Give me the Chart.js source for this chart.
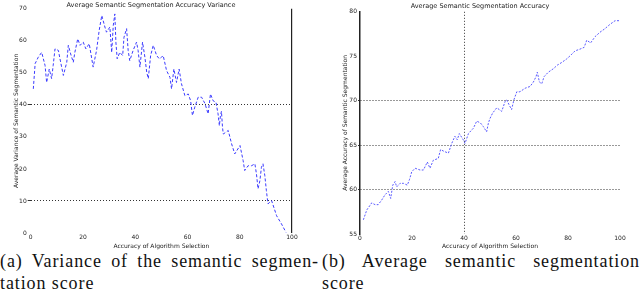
<!DOCTYPE html>
<html>
<head>
<meta charset="utf-8">
<script src="https://cdn.jsdelivr.net/npm/chart.js@4.4.0/dist/chart.umd.min.js"></script>
<style>
  body { margin: 0; background: #fff; width: 640px; height: 305px; overflow: hidden; position: relative; }
  canvas { position: absolute; top: 0; }
  #left { left: 0; }
  #right { left: 320px; }
  .cap { position: absolute; font-family: "Liberation Serif", serif; font-size: 18px; letter-spacing: 0.9px; color: #111; line-height: 22px; }
  .just { text-align: justify; text-align-last: justify; white-space: nowrap; }
</style>
</head>
<body>
<canvas id="left" width="320" height="250"></canvas>
<canvas id="right" width="320" height="250"></canvas>
<div class="cap" style="left:0; top:250px; width:319px;">
  <div class="just">(a) Variance of the semantic segmen-</div>
  <div>tation score</div>
</div>
<div class="cap" style="left:322px; top:250px; width:318px;">
  <div class="just">(b) Average semantic segmentation</div>
  <div>score</div>
</div>
<script>
// left plot: variance of segmentation score vs algorithm selection accuracy
const leftX = [1,1.7,2.9,4.2,5.5,6.1,7.1,8,8.6,9.3,10.6,11.2,12.5,13.8,14.4,15.3,16.3,16.9,18,18.9,20.1,21.1,22.4,23.9,25.2,26.2,27.2,28.4,29,30.3,31,31.6,32.2,32.6,33.1,34.1,35.2,35.7,36.7,37.3,37.9,39.2,40.5,41.1,41.8,42.8,43.7,44.4,45,45.9,46.9,48.2,49.2,50.1,50.7,52,53.3,53.9,54.8,55.8,56.8,57.7,59,60.3,61.2,61.9,62.8,64.1,65.4,66.7,67.9,68.8,69.8,70.9,71.7,72.2,72.6,73,73.4,73.7,75.6,76.9,78.1,80.1,81.3,81.9,83.2,84.5,85.8,86.4,87,87.7,88.3,88.9,89.6,90.2,90.8,92.2,94.1,96,97.7];
const leftY = [45,52.9,54.9,56.4,52.3,47,51.2,48.2,52.3,57.5,57,54.4,49.2,53.3,58.6,55.9,53.3,56.4,60.6,58.6,59.6,57.5,59.1,51.8,57,63.2,67.9,64.3,62.7,64.3,56.4,64.8,68.4,59.6,54.4,56.4,55.4,61.1,63.8,57,53.8,57,59.6,57,51.8,59.6,54.9,50.2,48.2,55.4,58.6,55.4,54.4,54.9,55.4,50.7,48.6,45,51.2,47,51.2,46.6,42.9,43.4,41.3,36.7,39.3,42.4,42.4,40.4,37.2,43.4,41.3,40.8,37.2,33.5,36.5,38,33,30.9,32,27.8,24.7,27.3,22.6,19.5,21,21,21.6,18.4,13.8,16.3,20.5,21.6,17.9,13.2,9.1,10.1,5.4,2.8,0.2];

// right plot: average segmentation accuracy
const rightX = [1.3,2.6,4.5,5.8,7,8.3,9.6,10.9,11.8,12.6,13.5,14.1,15.4,16.7,18.2,19,19.9,21.2,23.1,24.4,25.9,26.9,28.2,30.1,31,32.3,34,35.3,36.5,37.4,38.2,39.7,40.4,41.7,43.6,44.9,46.3,47.4,48.7,49.4,50,51,52.6,54.5,55.8,56.4,57.4,58.3,59.2,60.3,61.5,63.5,65.4,66.7,67.7,68.2,69,69.9,70.8,72.4,74.4,75.9,77.6,79.5,81,82.7,84.6,86.2,87.2,88.7,90.4,92.3,94.2,96.2,98.1,100];
const rightY = [56.6,57.7,58.5,58.3,58.3,58.8,59.4,59.8,59,60.5,60.9,60.3,60.7,60.7,60.5,61.1,62,62.4,62.2,62.2,63.1,62.4,63.3,63.5,64.5,64.3,64.1,65.2,66,65.6,66.3,65.6,65.2,66.3,66.9,67.7,67.5,67.1,66.5,67.5,68,68.6,69.2,68.8,69.9,70.1,69.5,69,70.1,71,71,71.4,71.6,72.1,72.7,73.2,72.1,71.9,72.7,73.2,73.6,74,74.3,74.7,75.1,75.6,75.8,76,76.8,76.5,77.2,77.7,78.1,78.6,79,79];

const leftGridY = [40, 10];
const rightGridY = [60, 65, 70];
const rightGridX = [40];

const smallFont = { family: 'DejaVu Sans', size: 6 };
const titleFont = { family: 'DejaVu Sans', size: 6.5, weight: 'normal' };
const dark = '#222';

function pts(xs, ys) {
  return xs.map((x, i) => ({ x: x, y: ys[i] }));
}

function pick(list, color) {
  return ctx => (ctx.tick && list.includes(ctx.tick.value)) ? color : 'rgba(0,0,0,0)';
}

new Chart(document.getElementById('left'), {
  type: 'line',
  data: {
    datasets: [{
      data: pts(leftX, leftY),
      borderColor: '#3b3bff',
      borderWidth: 1,
      borderDash: [3, 2],
      pointRadius: 0,
      tension: 0
    }]
  },
  options: {
    responsive: false,
    animation: false,
    devicePixelRatio: 1,
    layout: { padding: { left: 10, right: 28, top: 0, bottom: 0 } },
    plugins: {
      legend: { display: false },
      tooltip: { enabled: false },
      title: {
        display: true,
        text: 'Average Semantic Segmentation Accuracy Variance',
        font: titleFont, color: dark,
        padding: { top: 1, bottom: 0 }
      }
    },
    scales: {
      x: {
        type: 'linear', min: 0, max: 100,
        ticks: { stepSize: 20, font: smallFont, color: dark, padding: 1, maxRotation: 0 },
        grid: { color: pick([100], '#222'), lineWidth: 1.2, drawTicks: false },
        border: { display: false },
        title: { display: true, text: 'Accuracy of Algorithm Selection', font: smallFont, color: dark, padding: 0 },
        afterFit: s => { s.height = 17; }
      },
      y: {
        min: 0, max: 70,
        ticks: { stepSize: 10, font: smallFont, color: dark, padding: 1 },
        grid: { color: pick(leftGridY, '#333'), lineWidth: 1, tickLength: 3 },
        border: { display: false, dash: [1, 2] },
        title: { display: true, text: 'Average Variance of Semantic Segmentation', font: smallFont, color: dark, padding: { top: 3, bottom: 0 } },
        afterFit: s => { s.width = 20.7; }
      }
    }
  }
});

new Chart(document.getElementById('right'), {
  type: 'line',
  data: {
    datasets: [{
      data: pts(rightX, rightY),
      borderColor: '#5a5aff',
      borderWidth: 1,
      borderDash: [2, 1.5],
      pointRadius: 0,
      tension: 0
    }]
  },
  options: {
    responsive: false,
    animation: false,
    devicePixelRatio: 1,
    layout: { padding: { left: 20, right: 20, top: 0, bottom: 0 } },
    plugins: {
      legend: { display: false },
      tooltip: { enabled: false },
      title: {
        display: true,
        text: 'Average Semantic Segmentation Accuracy',
        font: titleFont, color: dark,
        padding: { top: 2, bottom: 2 }
      }
    },
    scales: {
      x: {
        type: 'linear', min: 0, max: 100,
        ticks: { stepSize: 20, font: smallFont, color: dark, padding: 1, maxRotation: 0 },
        grid: { color: pick(rightGridX, '#333'), lineWidth: 1, drawTicks: false },
        border: { display: false, dash: [1, 2] },
        title: { display: true, text: 'Accuracy of Algorithm Selection', font: smallFont, color: dark, padding: 0 },
        afterFit: s => { s.height = 16; }
      },
      y: {
        min: 55, max: 80,
        ticks: { stepSize: 5, font: smallFont, color: dark, padding: 1 },
        grid: { color: pick(rightGridY, '#333'), lineWidth: 1, tickLength: 2 },
        border: { display: true, color: '#222', width: 1.5, dash: [1, 2] },
        title: { display: true, text: 'Average Accuracy of Semantic Segmentation', font: smallFont, color: dark, padding: { top: 2, bottom: 0 } },
        afterFit: s => { s.width = 20; }
      }
    }
  }
});
</script>
</body>
</html>
